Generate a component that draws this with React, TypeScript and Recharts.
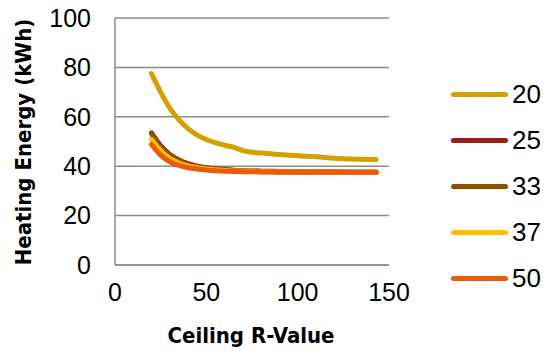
import React from "react";
import { LineChart, Line, XAxis, YAxis, CartesianGrid } from "recharts";

const rValues = [20, 25, 30, 35, 40, 45, 50, 55, 60, 65, 70, 80, 90, 100, 110, 120, 130, 143];
const s20 = [77.5, 70, 63.5, 58.8, 55.2, 52.6, 50.8, 49.5, 48.5, 47.6, 46.3, 45.3, 44.7, 44.2, 43.8, 43.2, 42.9, 42.7];
const s25 = [53.5, 48.3, 44.8, 42.5, 41.0, 40.0, 39.4, 39.0, 38.7, 38.4, 38.2, 38.0, 37.9, 37.8, 37.7, 37.7, 37.6, 37.6];
const s33 = [53.2, 48.0, 44.5, 42.3, 40.8, 39.9, 39.3, 38.9, 38.6, 38.3, 38.1, 37.9, 37.8, 37.7, 37.7, 37.6, 37.6, 37.6];
const s37 = [50.8, 46.3, 43.2, 41.3, 40.1, 39.4, 38.9, 38.6, 38.3, 38.1, 38.0, 37.8, 37.7, 37.7, 37.6, 37.6, 37.6, 37.6];
const s50 = [48.8, 44.5, 41.8, 40.3, 39.4, 38.9, 38.5, 38.2, 38.0, 37.9, 37.8, 37.7, 37.6, 37.6, 37.6, 37.6, 37.6, 37.6];

const seriesNames = ["20", "25", "33", "37", "50"];
const seriesValues = [s20, s25, s33, s37, s50];
const colors = ["#D4A000", "#9A1F14", "#8E5000", "#FFC000", "#EB5A0A"];

const xTicks = [0, 50, 100, 150];
const yTicks = [0, 20, 40, 60, 80, 100];

const data = rValues.map((r, i) => {
  const row: Record<string, number> = { r };
  seriesNames.forEach((n, k) => {
    row["s" + n] = seriesValues[k][i];
  });
  return row;
});

const FONT = "'Liberation Sans', Arial, sans-serif";
const TITLE_FONT = "'DejaVu Sans', sans-serif";

export default function App() {
  return (
    <div style={{ position: "absolute", left: 0, top: 0, width: 545, height: 353, background: "#fff" }}>
      <LineChart width={545} height={353} data={data} margin={{ top: 18, right: 156, bottom: 0, left: 0 }}>
        <CartesianGrid vertical={false} stroke="#8c8c8c" strokeWidth={1.5} />
        <XAxis
          dataKey="r"
          type="number"
          domain={[0, 150]}
          ticks={xTicks}
          height={88}
          tickLine={false}
          tickSize={0}
          tickMargin={18}
          stroke="#8c8c8c"
          strokeWidth={1.5}
          tick={{ fill: "#000", fontSize: 25, fontFamily: FONT }}
          label={() => (
            <text
              x={251}
              y={343}
              textAnchor="middle"
              fontFamily={TITLE_FONT}
              fontWeight="bold"
              fontSize={22}
              style={{ fontStretch: "condensed" }}
              fill="#000"
            >
              Ceiling R-Value
            </text>
          )}
        />
        <YAxis
          type="number"
          domain={[0, 100]}
          ticks={yTicks}
          width={115}
          tickLine={false}
          tickSize={0}
          tickMargin={24}
          stroke="#8c8c8c"
          strokeWidth={1.5}
          tick={{ fill: "#000", fontSize: 25, fontFamily: FONT }}
          label={() => (
            <text
              x={23}
              y={142}
              textAnchor="middle"
              dominantBaseline="central"
              transform="rotate(-90, 23, 142)"
              fontFamily={TITLE_FONT}
              fontWeight="bold"
              fontSize={22}
              style={{ fontStretch: "condensed" }}
              fill="#000"
            >
              Heating Energy (kWh)
            </text>
          )}
        />
        {seriesNames.map((n, k) => (
          <Line
            key={n}
            type="monotone"
            dataKey={"s" + n}
            name={n}
            stroke={colors[k]}
            strokeWidth={5}
            strokeLinecap="round"
            strokeLinejoin="round"
            dot={false}
            activeDot={false}
            isAnimationActive={false}
          />
        ))}
      </LineChart>
      <div style={{ position: "absolute", left: 451, top: 71, width: 94, display: "flex", flexDirection: "column" }}>
        {seriesNames.map((n, k) => (
          <div key={n} style={{ display: "flex", alignItems: "center", height: 46 }}>
            <div style={{ width: 57, height: 5, borderRadius: 3, background: colors[k], marginRight: 4 }} />
            <span style={{ fontFamily: FONT, fontSize: 26, color: "#000", lineHeight: "46px" }}>{n}</span>
          </div>
        ))}
      </div>
    </div>
  );
}
